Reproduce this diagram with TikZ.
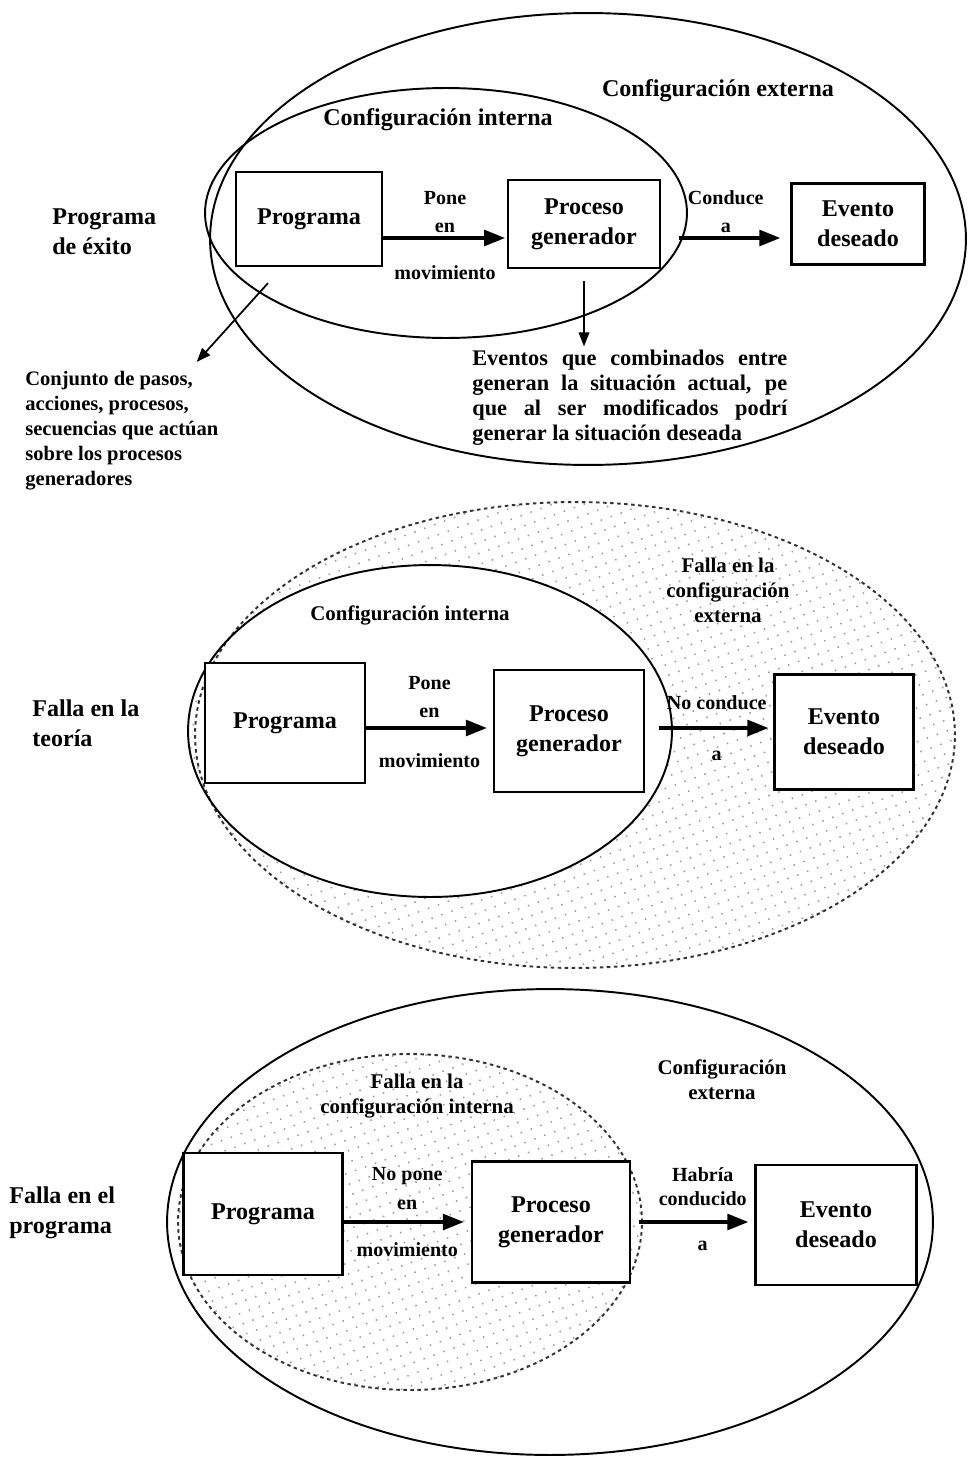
\documentclass[tikz,border=0pt]{standalone}
\usepackage{fontspec}
\setmainfont{Liberation Serif}
\usetikzlibrary{positioning,arrows.meta,calc,patterns.meta}
\tikzset{
  node-box/.style={draw,line width=1.3pt,fill=white,align=center,inner sep=2pt,
    font=\fontsize{13.7}{17}\selectfont\bfseries},
  node-label/.style={align=center,inner sep=2pt,font=\fontsize{11.4}{16}\selectfont\bfseries},
  node-title/.style={align=center,font=\fontsize{13.7}{16}\selectfont\bfseries},
  node-title-small/.style={align=center,font=\fontsize{11.9}{14.2}\selectfont\bfseries},
  node-side/.style={align=left,anchor=west,inner sep=0pt,font=\fontsize{13.7}{17}\selectfont\bfseries},
  node-note/.style={align=left,inner sep=0pt,font=\fontsize{11.7}{14.2}\selectfont\bfseries},
  % configuraciones: trazo continuo = funciona, punteado = falla
  conf-ok/.style={line width=1.1pt},
  conf-fail/.style={line width=1.1pt,dash pattern=on 2pt off 2pt,draw=black!80},
  stipple/.style={pattern={Dots[distance=6pt,radius=.6pt,angle=20]},pattern color=black!40},
  arrow/.style={-{Triangle[length=12pt,width=9pt]},line width=2pt},
  arrow-thin/.style={-{Triangle[length=8pt,width=6pt]},line width=1pt},
}

\begin{document}
\begin{tikzpicture}[x=0.02cm,y=-0.02cm]
  \useasboundingbox (0,0) rectangle (967,1457);
  \coordinate (row1) at (0,238);
  \coordinate (row2) at (0,728);
  \coordinate (row3) at (0,1222);

  % programa de exito
  \draw[conf-ok] (588,239) ellipse [x radius=7.56cm,y radius=4.52cm];
  \draw[conf-ok] (446,213) ellipse [x radius=4.82cm,y radius=2.5cm];
  \node[node-side] (lead1) at (52,232) {Programa\\de éxito};
  \node[node-title] (int1) at (438,120) {Configuración interna};
  \node[node-title] (ext1) at (718,91) {Configuración externa};
  \node[node-box,minimum width=2.92cm,minimum height=1.88cm] (prog1) at (309,219) {Programa};
  \node[node-box,minimum width=3.04cm,minimum height=1.76cm] (proc1) at (584,224) {Proceso\\generador};
  \node[node-box,minimum width=2.66cm,minimum height=1.62cm] (evt1) at (858,224) {Evento\\deseado};
  \node[node-note,anchor=north west] (conj) at (25,371)
    {Conjunto de pasos,\\acciones, procesos,\\secuencias que actúan\\sobre los procesos\\generadores};
  \node[node-note,anchor=north west,font=\fontsize{12.7}{14.2}\selectfont\bfseries] (evts) at (472,350)
    {\makebox[6.3cm][s]{Eventos que combinados entre}\\
     \makebox[6.3cm][s]{generan la situación actual, pe}\\
     \makebox[6.3cm][s]{que al ser modificados podrí}\\
     generar la situación deseada};
  \draw[arrow,shorten >=1pt] (prog1.east |- row1) --
    node[node-label,above=0pt] {Pone\\en}
    node[node-label,below=0.45cm] {movimiento} (proc1.west |- row1);
  \draw[arrow,shorten <=0.35cm,shorten >=0.2cm] (proc1.east |- row1) --
    node[node-label,above=0pt] {Conduce\\a} (evt1.west |- row1);
  \draw[arrow-thin,shorten <=0.24cm,shorten >=2pt] (proc1.south) -- (proc1.south |- evts.north);
  \draw[arrow-thin] ($(prog1.south)+(-41,16)$) -- ($(conj.north east)+(-22,-9)$);

  % falla en la teoria
  \fill[stipple,even odd rule] (575,735) ellipse [x radius=7.6cm,y radius=4.66cm]
    (430,731) ellipse [x radius=4.84cm,y radius=3.32cm];
  \draw[conf-fail] (575,735) ellipse [x radius=7.6cm,y radius=4.66cm];
  \draw[conf-ok] (430,731) ellipse [x radius=4.84cm,y radius=3.32cm];
  \node[node-side] (lead2) at (32,723) {Falla en la\\teoría};
  \node[node-title-small] (int2) at (410,615) {Configuración interna};
  \node[node-title-small] (ext2) at (728,590) {Falla en la\\configuración\\externa};
  \node[node-box,minimum width=3.2cm,minimum height=2.4cm] (prog2) at (285,723) {Programa};
  \node[node-box,minimum width=3.0cm,minimum height=2.44cm] (proc2) at (569,731) {Proceso\\generador};
  \node[node-box,minimum width=2.78cm,minimum height=2.3cm] (evt2) at (844,732) {Evento\\deseado};
  \draw[arrow,shorten >=0.12cm] (prog2.east |- row2) --
    node[node-label,above=0.1cm] {Pone\\en}
    node[node-label,below=0.4cm] {movimiento} (proc2.west |- row2);
  \draw[arrow,shorten <=0.28cm,shorten >=0.1cm] (proc2.east |- row2) --
    node[node-label,above=0.26cm,xshift=0.15cm] {No conduce}
    node[node-label,below=0.35cm,xshift=0.15cm] {a} (evt2.west |- row2);

  % falla en el programa
  \fill[stipple] (410,1222) ellipse [x radius=4.64cm,y radius=3.36cm];
  \draw[conf-ok] (550,1222) ellipse [x radius=7.66cm,y radius=4.66cm];
  \draw[conf-fail] (410,1222) ellipse [x radius=4.64cm,y radius=3.36cm];
  \node[node-side] (lead3) at (9,1213) {Falla en el\\programa};
  \node[node-title-small] (int3) at (417,1096) {Falla en la\\configuración interna};
  \node[node-title-small] (ext3) at (722,1080) {Configuración\\externa};
  \node[node-box,minimum width=3.18cm,minimum height=2.44cm] (prog3) at (263,1214) {Programa};
  \node[node-box,minimum width=3.16cm,minimum height=2.42cm] (proc3) at (551,1222) {Proceso\\generador};
  \node[node-box,minimum width=3.22cm,minimum height=2.4cm] (evt3) at (836,1225) {Evento\\deseado};
  \draw[arrow,shorten >=0.14cm] (prog3.east |- row3) --
    node[node-label,above=0.15cm] {No pone\\en}
    node[node-label,below=0.3cm] {movimiento} (proc3.west |- row3);
  \draw[arrow,shorten <=0.16cm,shorten >=0.12cm] (proc3.east |- row3) --
    node[node-label,above=0.22cm,xshift=0.2cm,font=\fontsize{11.4}{13.6}\selectfont\bfseries] {Habría\\conducido}
    node[node-label,below=0.28cm,xshift=0.2cm] {a} (evt3.west |- row3);
\end{tikzpicture}
\end{document}
